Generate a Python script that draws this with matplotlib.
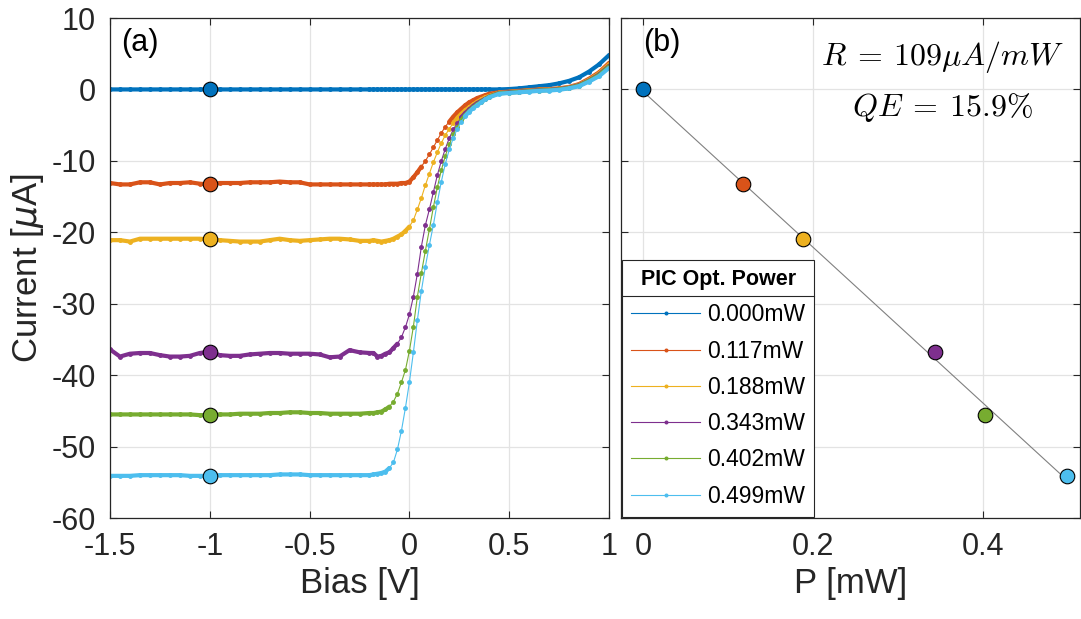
import numpy as np
import matplotlib
matplotlib.use('Agg')
import matplotlib.pyplot as plt
from matplotlib.lines import Line2D

plt.rcParams['font.family'] = ['Liberation Sans', 'DejaVu Sans']
plt.rcParams['axes.unicode_minus'] = False
plt.rcParams['mathtext.fontset'] = 'cm'

# bias sweep [V], shared by all traces
bias = [-1.5, -1.45, -1.4, -1.35, -1.3, -1.25, -1.2, -1.15, -1.1, -1.05,
        -1.0, -0.95, -0.9, -0.85, -0.8, -0.75, -0.7, -0.65, -0.6, -0.55,
        -0.5, -0.45, -0.4, -0.35, -0.3, -0.25,
        -0.2, -0.18, -0.16, -0.14, -0.12, -0.1, -0.08, -0.06, -0.04, -0.02,
        0.0, 0.02, 0.04, 0.06, 0.08, 0.1, 0.12, 0.14, 0.16, 0.18,
        0.2, 0.22, 0.24, 0.26, 0.28, 0.3, 0.32, 0.34, 0.36, 0.38, 0.4,
        0.45, 0.5, 0.55, 0.6, 0.65, 0.7, 0.75, 0.8, 0.85, 0.9, 0.95, 1.0]

# measured current [uA] for each optical power
i_000 = [0.0] * 57 + [0.0, 0.05, 0.15, 0.3, 0.45, 0.6, 0.85, 1.2, 1.7, 2.5, 3.5, 4.8]

i_117 = [-13.1, -13.3, -13.3, -13.0, -13.0, -13.3, -13.1, -13.1, -13.0, -13.2,
         -13.3, -13.1, -13.1, -13.1, -13.0, -13.0, -13.0, -12.9, -13.0, -13.0,
         -13.3, -13.3, -13.3, -13.3, -13.3, -13.3,
         -13.3, -13.3, -13.3, -13.3, -13.3, -13.2, -13.2, -13.2, -13.1, -13.1,
         -12.9, -12.3, -11.6, -10.8, -10.0, -9.1, -8.1, -7.1, -6.1, -5.2,
         -4.5, -3.8, -3.2, -2.7, -2.2, -1.8, -1.5, -1.2, -1.0, -0.8, -0.6,
         -0.4, -0.3, -0.2, -0.1, 0.0, 0.05, 0.15, 0.35, 0.75, 1.5, 2.4, 3.7]

i_188 = [-21.1, -21.1, -21.3, -20.9, -20.9, -20.9, -20.9, -20.9, -20.9, -20.9,
         -21.0, -21.1, -21.2, -21.3, -21.3, -21.3, -21.1, -20.9, -21.1, -21.2,
         -21.1, -21.0, -20.9, -20.9, -21.0, -21.2,
         -21.2, -21.1, -21.2, -21.3, -21.2, -21.1, -20.9, -20.6, -20.3, -19.8,
         -19.2, -18.3, -16.8, -15.2, -13.4, -11.8, -10.2, -8.8, -7.5, -6.4,
         -5.5, -4.7, -4.0, -3.4, -2.9, -2.5, -2.1, -1.7, -1.4, -1.1, -0.9,
         -0.45, -0.35, -0.25, -0.15, -0.05, 0.0, 0.1, 0.3, 0.65, 1.35, 2.25, 3.5]

i_343 = [-36.4, -37.4, -37.0, -36.9, -36.9, -37.2, -37.4, -37.4, -37.3, -36.9,
         -36.7, -37.2, -37.3, -37.3, -37.1, -37.0, -36.9, -36.9, -37.0, -37.0,
         -37.0, -37.1, -37.5, -37.4, -36.5, -36.8,
         -36.9, -36.9, -37.4, -37.3, -37.0, -36.8, -36.2, -35.6, -34.7, -33.3,
         -31.5, -29.0, -25.8, -22.0, -19.0, -16.8, -14.4, -12.0, -10.0, -8.3,
         -6.8, -5.6, -4.7, -3.9, -3.3, -2.8, -2.3, -1.9, -1.6, -1.3, -1.0,
         -0.5, -0.4, -0.3, -0.2, -0.1, -0.05, 0.05, 0.25, 0.6, 1.25, 2.1, 3.3]

i_402 = [-45.5, -45.5, -45.5, -45.5, -45.5, -45.5, -45.5, -45.5, -45.5, -45.6,
         -45.6, -45.5, -45.5, -45.4, -45.4, -45.4, -45.3, -45.3, -45.2, -45.2,
         -45.3, -45.3, -45.4, -45.4, -45.4, -45.4,
         -45.3, -45.3, -45.2, -45.1, -44.8, -44.4, -43.7, -42.6, -41.0, -39.3,
         -36.6, -33.2, -29.0, -25.7, -22.6, -19.6, -16.5, -13.7, -11.3, -9.3,
         -7.7, -6.3, -5.2, -4.3, -3.6, -3.0, -2.5, -2.1, -1.7, -1.4, -1.0,
         -0.55, -0.45, -0.35, -0.25, -0.15, -0.1, 0.0, 0.2, 0.55, 1.2, 2.0, 3.2]

i_499 = [-54.1, -54.1, -54.1, -54.0, -54.0, -54.0, -54.0, -54.0, -54.1, -54.1,
         -54.1, -54.0, -54.0, -54.0, -54.0, -54.0, -54.0, -53.9, -53.9, -53.9,
         -54.0, -54.0, -54.0, -54.0, -54.0, -54.0,
         -54.0, -53.9, -53.8, -53.7, -53.5, -53.0, -52.2, -50.4, -47.8, -44.6,
         -41.0, -36.8, -32.3, -28.2, -24.8, -21.8, -19.0, -15.8, -12.9, -10.4,
         -8.4, -6.8, -5.5, -4.5, -3.7, -3.1, -2.6, -2.2, -1.8, -1.4, -1.1,
         -0.6, -0.5, -0.4, -0.3, -0.2, -0.15, -0.05, 0.15, 0.45, 1.1, 1.85, 3.0]

# photocurrent at -1 V versus optical power on chip
p_mw = [0.000, 0.117, 0.188, 0.343, 0.402, 0.499]
i_m1 = [0.0, -13.3, -21.0, -36.7, -45.6, -54.1]

curves = [i_000, i_117, i_188, i_343, i_402, i_499]
colors = ['#0072BD', '#D95319', '#EDB120', '#7E2F8E', '#77AC30', '#4DBEEE']

fig = plt.figure(figsize=(10.81, 6.19), dpi=100)
W, H = 1081.0, 619.0
ax1 = fig.add_axes([110 / W, 101 / H, 499 / W, 500 / H])
ax2 = fig.add_axes([621 / W, 101 / H, 459 / W, 500 / H])

v = np.array(bias)
for cur, p, c in zip(curves, p_mw, colors):
    cur = np.array(cur)
    slope = np.abs(np.gradient(cur, v))
    flat = np.where(slope < 40, cur, np.nan)
    ax1.plot(v, flat, color=c, lw=3.0, solid_capstyle='round', zorder=2)
    ax1.plot(v, cur, color=c, lw=0.8, marker='.', ms=5, zorder=2,
             label='%.3fmW' % p)

for p, i, c in zip(p_mw, i_m1, colors):
    ax1.plot(-1.0, i, 'o', ms=10.5, mfc=c, mec='k', mew=0.8, zorder=5)

# linear fit -> responsivity
k, b = np.polyfit(p_mw, i_m1, 1)
ax2.plot(p_mw, np.polyval([k, b], p_mw), color='#808080', lw=0.8, zorder=2)
for p, i, c in zip(p_mw, i_m1, colors):
    ax2.plot(p, i, 'o', ms=10.5, mfc=c, mec='k', mew=0.8, zorder=5)

for ax in (ax1, ax2):
    ax.set_ylim(-60, 10)
    ax.set_yticks([10, 0, -10, -20, -30, -40, -50, -60])
    ax.grid(True, color='#e3e3e3', lw=0.9)
    ax.set_axisbelow(True)
    ax.tick_params(direction='in', length=5, width=0.8, labelsize=22,
                   top=True, right=True, colors='#262626', pad=10)
    for s in ax.spines.values():
        s.set_color('#262626')
        s.set_linewidth(0.9)

ax1.set_xlim(-1.5, 1.0)
ax1.set_xticks([-1.5, -1, -0.5, 0, 0.5, 1])
ax1.set_xticklabels(['-1.5', '-1', '-0.5', '0', '0.5', '1'])
ax1.set_xlabel('Bias [V]', fontsize=25, color='#262626')
ax1.set_ylabel(r'Current [$\mu$A]', fontsize=25, color='#262626',
               math_fontfamily='dejavusans')
ax1.text(0.022, 0.95, '(a)', transform=ax1.transAxes, fontsize=22,
         ha='left', va='center')

ax2.set_xlim(-0.026, 0.514)
ax2.set_xticks([0, 0.2, 0.4])
ax2.set_xticklabels(['0', '0.2', '0.4'])
ax2.tick_params(labelleft=False)
ax2.set_xlabel('P [mW]', fontsize=25, color='#262626')
ax2.text(0.048, 0.95, '(b)', transform=ax2.transAxes, fontsize=22,
         ha='left', va='center')
ax2.text(0.70, 0.922, r'$R \:=\: 109\mu A/mW$', transform=ax2.transAxes,
         fontsize=23, ha='center', va='center')
ax2.text(0.70, 0.822, r'$QE \:=\: 15.9\%$', transform=ax2.transAxes,
         fontsize=23, ha='center', va='center')

handles, labels = ax1.get_legend_handles_labels()
leg = ax2.legend(handles, labels, loc='lower left', bbox_to_anchor=(0.0, 0.0),
                 borderaxespad=0.05, fontsize=16.5, title='PIC Opt. Power',
                 title_fontproperties={'weight': 'bold', 'size': 15.5},
                 handlelength=3.0, handletextpad=0.3, labelspacing=0.58,
                 borderpad=0.4, fancybox=False, framealpha=1,
                 edgecolor='#262626', markerscale=0.75)
leg.get_frame().set_linewidth(0.8)

fig.canvas.draw()
fb = leg.get_frame().get_window_extent()
tb = leg.get_title().get_window_extent()
ysep = tb.y0 - 6
fig.add_artist(Line2D([fb.x0 / W, fb.x1 / W], [ysep / H, ysep / H],
                      transform=fig.transFigure, color='#262626', lw=0.8))

fig.savefig('out.png', dpi=100)
